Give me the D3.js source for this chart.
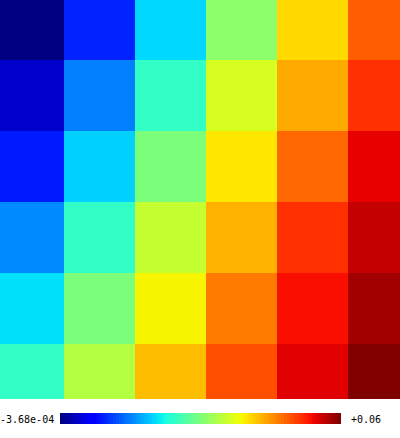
<!DOCTYPE html>
<html><head><meta charset="utf-8">
<script src="https://cdn.jsdelivr.net/npm/d3@7"></script>
<style>html,body{margin:0;padding:0;background:#fff;overflow:hidden}</style>
</head><body>
<svg id="chart" width="400" height="438"></svg>
<script>
const rows = ["r0","r1","r2","r3","r4","r5"];
const cols = ["c0","c1","c2","c3","c4","c5"];
const values = [
  [-0.000368, 0.00917, 0.01998, 0.03102, 0.04068, 0.04853],
  [0.00362, 0.01472, 0.02438, 0.03646, 0.0437, 0.05155],
  [0.00869, 0.01955, 0.02982, 0.03978, 0.04793, 0.05457],
  [0.01533, 0.02438, 0.03525, 0.0431, 0.05155, 0.05638],
  [0.02046, 0.02982, 0.03887, 0.04672, 0.05366, 0.05819],
  [0.02438, 0.03404, 0.0425, 0.0495, 0.05493, 0.06]
];
const minLabel = "-3.68e-04";
const maxLabel = "+0.06";
const vmin = -0.000368, vmax = 0.06;

function seg(pts, t){
  for(let i=1;i<pts.length;i++){
    if(t<=pts[i][0]){const a=pts[i-1],b=pts[i];return a[1]+(b[1]-a[1])*(t-a[0])/(b[0]-a[0]);}
  }
  return pts[pts.length-1][1];
}
const R=[[0,0],[0.35,0],[0.66,1],[0.89,1],[1,0.5]];
const G=[[0,0],[0.125,0],[0.375,1],[0.64,1],[0.91,0],[1,0]];
const B=[[0,0.5],[0.11,1],[0.34,1],[0.65,0],[1,0]];
function jet(t){t=Math.max(0,Math.min(1,t));return d3.rgb(255*seg(R,t),255*seg(G,t),255*seg(B,t)).toString();}
const color = d3.scaleSequential(jet).domain([vmin,vmax]);

const svg = d3.select("#chart");
const x = d3.scaleBand().domain(cols).range([-7,419]);
const y = d3.scaleBand().domain(rows).range([-11,415]);
svg.append("defs").append("clipPath").attr("id","clip").append("rect").attr("x",0).attr("y",0).attr("width",400).attr("height",399);
const g = svg.append("g").attr("clip-path","url(#clip)");
rows.forEach((r,i)=>{
  cols.forEach((c,j)=>{
    g.append("rect").attr("x",x(c)).attr("y",y(r)).attr("width",x.bandwidth()+0.5).attr("height",y.bandwidth()+0.5)
     .attr("fill",color(values[i][j])).attr("shape-rendering","crispEdges");
  });
});

// colorbar
const cb = d3.scaleLinear().domain([vmin,vmax]).range([60,340]);
const nSteps = 100;
const stepVals = d3.range(nSteps).map(k=>vmin+(vmax-vmin)*k/nSteps);
svg.append("g").selectAll("rect").data(stepVals).join("rect")
  .attr("x",d=>cb(d)).attr("y",413).attr("width",(340-60)/nSteps+0.5).attr("height",11)
  .attr("fill",d=>color(d+(vmax-vmin)/nSteps/2)).attr("shape-rendering","crispEdges");
svg.append("text").attr("x",0).attr("y",419).attr("dominant-baseline","central")
  .attr("font-family","DejaVu Sans Mono").attr("font-size",10).attr("fill","#000").text(minLabel);
svg.append("text").attr("x",351).attr("y",419).attr("dominant-baseline","central")
  .attr("font-family","DejaVu Sans Mono").attr("font-size",10).attr("fill","#000").text(maxLabel);
</script>
</body></html>
